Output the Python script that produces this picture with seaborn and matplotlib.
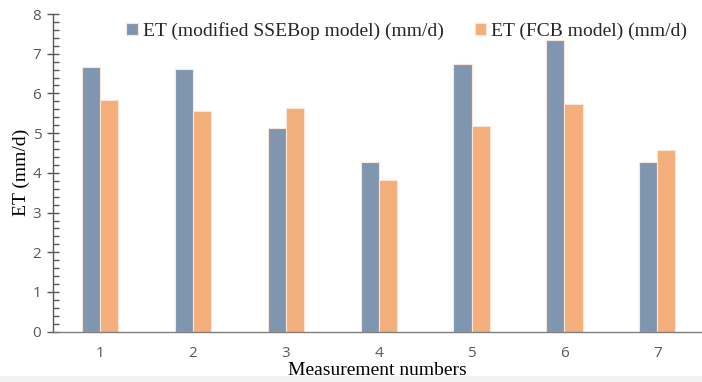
import matplotlib
matplotlib.use("Agg")
import matplotlib.pyplot as plt
from matplotlib.ticker import MultipleLocator
import seaborn as sns
import pandas as pd

# Measurement data
measurements = ["1", "2", "3", "4", "5", "6", "7"]
et_ssebop = [6.67, 6.62, 5.12, 4.28, 6.74, 7.35, 4.28]
et_fcb = [5.84, 5.55, 5.63, 3.81, 5.18, 5.74, 4.58]
series_names = ["ET (modified SSEBop model) (mm/d)", "ET (FCB model) (mm/d)"]
series_colors = ["#8096b0", "#f2ae7b"]

df = pd.DataFrame({
    "Measurement": measurements * 2,
    "ET": et_ssebop + et_fcb,
    "Series": [series_names[0]] * len(measurements) + [series_names[1]] * len(measurements),
})

sns.set_style("white")
plt.rcParams["font.family"] = ["Liberation Serif", "DejaVu Serif"]

fig = plt.figure(figsize=(7.02, 3.82), dpi=100)
fig.patch.set_facecolor("white")
# light band along the bottom edge
fig.patches.append(plt.Rectangle((0, 0), 1, 6 / 382, transform=fig.transFigure,
                                 facecolor="#f2f2f2", edgecolor="none", zorder=-5))
ax = fig.add_axes([53 / 702, 50.3 / 382, 648 / 702, 317.7 / 382])

sns.barplot(data=df, x="Measurement", y="ET", hue="Series", hue_order=series_names,
            palette=series_colors, width=0.39, gap=0, linewidth=0.8, edgecolor="#fbe6d6",
            saturation=1, ax=ax)

ax.set_ylim(0, 8)
ax.set_xlim(-0.505, 6.47)
ax.yaxis.set_major_locator(MultipleLocator(1))
ax.yaxis.set_minor_locator(MultipleLocator(0.2))

for side in ["top", "right"]:
    ax.spines[side].set_visible(False)
ax.spines["left"].set_color("#595959")
ax.spines["bottom"].set_color("#7f7f7f")
ax.spines["left"].set_linewidth(1.0)
ax.spines["bottom"].set_linewidth(1.0)

ax.tick_params(axis="y", which="major", direction="inout", length=9, width=1.0,
               color="#595959", left=True, labelsize=11, labelcolor="#595959", pad=4)
ax.tick_params(axis="y", which="minor", direction="in", length=4, width=1.0,
               color="#595959", left=True)
ax.tick_params(axis="x", which="major", length=0, labelsize=11, labelcolor="#595959", pad=10)
for lab in ax.get_xticklabels() + ax.get_yticklabels():
    lab.set_family(["Open Sans", "DejaVu Sans"])

ax.set_xlabel("Measurement numbers", fontsize=14, color="black", labelpad=1)
ax.set_ylabel("ET (mm/d)", fontsize=14, color="black", labelpad=2)

handles, labels = ax.get_legend_handles_labels()
ax.legend(handles, labels, loc="upper center", bbox_to_anchor=(0.546, 1.0), ncol=2,
          frameon=False, fontsize=14, handlelength=0.6, handleheight=0.6,
          handletextpad=0.25, columnspacing=1.6, borderaxespad=0.0)

fig.savefig("out.png", dpi=100)
